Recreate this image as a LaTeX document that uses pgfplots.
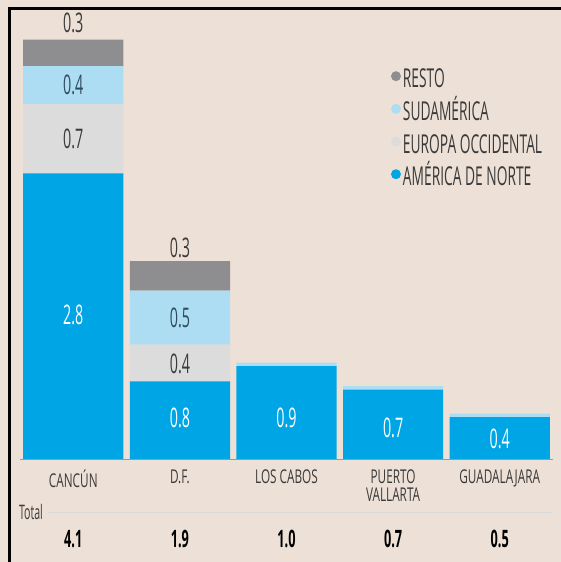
\documentclass[border=0pt]{standalone}
\usepackage{fontspec}
\setmainfont{Open Sans}[FakeStretch=0.62]
\newfontfamily\narrowfam{Open Sans}[FakeStretch=0.53]
\usepackage{pgfplots}
\pgfplotsset{compat=1.18}
\definecolor{bg}{HTML}{EDE0D6}
\definecolor{amer}{HTML}{00A5E5}
\definecolor{euro}{HTML}{DCDCDC}
\definecolor{sud}{HTML}{ADDDF3}
\definecolor{resto}{HTML}{8E8E90}
\definecolor{txt}{HTML}{3A3A3A}
\definecolor{sudtxt}{HTML}{2F4A5E}
\newcommand\valfont{\narrowfam\fontsize{27bp}{29bp}\selectfont}
\newcommand\legfont{\narrowfam\fontsize{26bp}{28bp}\selectfont}
\newcommand\catfont{\fontsize{19bp}{17.5bp}\selectfont}
\newcommand\totfont{\narrowfam\fontsize{24bp}{26bp}\selectfont\bfseries}
\newcommand\lstrut{\vrule height 25bp depth 6bp width 0pt\relax}
\tikzset{vl/.style={font=\valfont, inner sep=0pt, anchor=center},
         tl/.style={font=\totfont, text=black, inner sep=0pt, anchor=center}}
\begin{document}
\begin{tikzpicture}
\fill[bg] (0,0) rectangle (561bp,562bp);
\begin{axis}[
  at={(20bp,103bp)}, anchor=south west,
  scale only axis, width=533bp, height=449bp,
  xmin=-0.5, xmax=4.5, ymin=0, ymax=4.4,
  ybar stacked, bar width=0.94,
  axis y line=none, axis x line*=bottom,
  x axis line style={draw=black!40, line width=0.8bp, -},
  xtick={0,1,2,3,4},
  xticklabels={CANCÚN, D.F., LOS CABOS, {PUERTO\\VALLARTA}, GUADALAJARA},
  xticklabel style={align=center, font=\catfont, text=txt, anchor=north, inner sep=0pt, yshift=-11bp},
  major tick length=0pt,
  clip=false,
  reverse legend,
  legend image code/.code={\fill[#1] (0bp,0bp) circle (5bp);},
  legend cell align=left,
  legend style={at={(0.6956,0.887)}, anchor=north west, draw=none, fill=none,
    font=\legfont, text=txt, row sep=2.2bp, inner sep=0pt},
]
\addplot[fill=amer, draw=none] coordinates {(0,2.8) (1,0.76) (2,0.91) (3,0.68) (4,0.41)};
\addlegendentry{\lstrut AMÉRICA DE NORTE}
\addplot[fill=euro, draw=none] coordinates {(0,0.68) (1,0.36) (2,0) (3,0) (4,0)};
\addlegendentry{\lstrut EUROPA OCCIDENTAL}
\addplot[fill=sud, draw=none] coordinates {(0,0.37) (1,0.53) (2,0.035) (3,0.035) (4,0.035)};
\addlegendentry{\lstrut SUDAMÉRICA}
\addplot[fill=resto, draw=none] coordinates {(0,0.26) (1,0.29) (2,0) (3,0) (4,0)};
\addlegendentry{\lstrut RESTO}
\coordinate (a0) at (axis cs:0,1.41);
\coordinate (e0) at (axis cs:0,3.14);
\coordinate (s0) at (axis cs:0,3.665);
\coordinate (r0) at (axis cs:0,4.27);
\coordinate (a1) at (axis cs:1,0.40);
\coordinate (e1) at (axis cs:1,0.93);
\coordinate (s1) at (axis cs:1,1.38);
\coordinate (r1) at (axis cs:1,2.07);
\coordinate (a2) at (axis cs:2,0.40);
\coordinate (a3) at (axis cs:3,0.30);
\coordinate (a4) at (axis cs:4,0.20);
\coordinate (t0) at (axis cs:0,-0.785);
\coordinate (t1) at (axis cs:1,-0.785);
\coordinate (t2) at (axis cs:2,-0.785);
\coordinate (t3) at (axis cs:3,-0.785);
\coordinate (t4) at (axis cs:4,-0.785);
\end{axis}
\node[vl, text=white] at (a0) {2.8};
\node[vl, text=txt] at (e0) {0.7};
\node[vl, text=sudtxt] at (s0) {0.4};
\node[vl, text=txt] at (r0) {0.3};
\node[vl, text=white] at (a1) {0.8};
\node[vl, text=txt] at (e1) {0.4};
\node[vl, text=sudtxt] at (s1) {0.5};
\node[vl, text=txt] at (r1) {0.3};
\node[vl, text=white] at (a2) {0.9};
\node[vl, text=white] at (a3) {0.7};
\node[vl, text=white] at (a4) {0.4};
\node[tl] at (t0) {4.1};
\node[tl] at (t1) {1.9};
\node[tl] at (t2) {1.0};
\node[tl] at (t3) {0.7};
\node[tl] at (t4) {0.5};
\draw[draw=black!15, line width=1bp] (48bp,49bp) -- (553bp,49bp);
\node[font=\narrowfam\fontsize{20bp}{22bp}\selectfont, text=txt, inner sep=0pt] at (31bp,50bp) {Total};
\draw[line width=3bp, black] (9.5bp,0bp) -- (9.5bp,553.5bp) -- (561bp,553.5bp);
\pgfresetboundingbox
\useasboundingbox (0,0) rectangle (561bp,562bp);
\end{tikzpicture}
\end{document}
